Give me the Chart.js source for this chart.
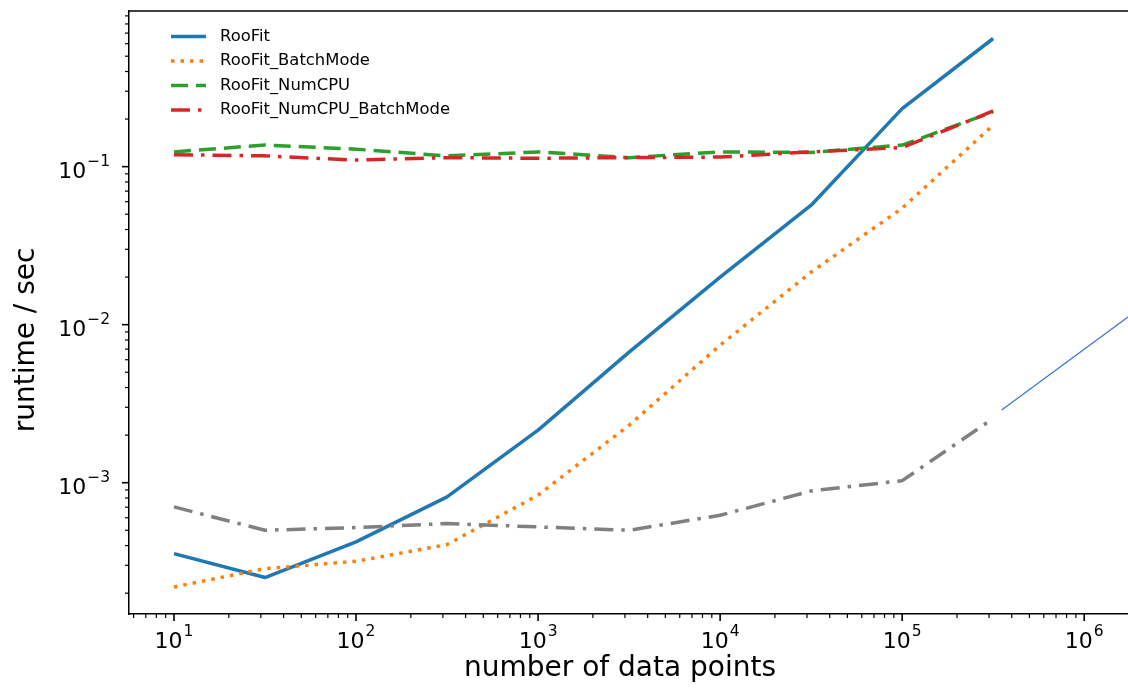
<!DOCTYPE html>
<html>
<head>
<meta charset="utf-8">
<script src="https://cdn.jsdelivr.net/npm/chart.js@4.4.1/dist/chart.umd.min.js"></script>
<style>
    html, body { margin: 0; padding: 0; background: #fff; overflow: hidden; }
    #wrap { width: 1128px; height: 689px; }
</style>
</head>
<body>
<div id="wrap"><canvas id="runtimeChart"></canvas></div>
<script>
// number of data points (x)
const nPoints = [10, 31.62, 100, 316.2, 1000, 3162, 10000, 31623, 100000, 316228];

// runtimes in seconds
const rooFit          = [3.56e-4, 2.51e-4, 4.22e-4, 8.13e-4, 2.15e-3, 6.70e-3, 2.00e-2, 5.70e-2, 0.233, 0.647];
const rooFitBatch     = [2.19e-4, 2.86e-4, 3.18e-4, 4.06e-4, 8.34e-4, 2.31e-3, 7.41e-3, 2.15e-2, 5.46e-2, 0.183];
const rooFitNumCPU    = [0.124, 0.137, 0.129, 0.117, 0.124, 0.114, 0.124, 0.123, 0.137, 0.222];
const rooFitNumCPUBM  = [0.119, 0.117, 0.110, 0.114, 0.113, 0.114, 0.115, 0.124, 0.132, 0.225];
const unlabelledGray  = [7.03e-4, 5.00e-4, 5.20e-4, 5.52e-4, 5.25e-4, 5.00e-4, 6.22e-4, 8.87e-4, 1.03e-3, 2.55e-3];

// the thin blue line on the right
const guideX = [3.52e5, 1.74e6];
const guideY = [2.88e-3, 1.12e-2];

// axis ranges and ticks (labels are base "10" + exponent)
const xRange = [5.66, 1.74e6];
const yRange = [1.476e-4, 0.966];
const xTickValues = [10, 100, 1e3, 1e4, 1e5, 1e6];
const xTickExps = ['1', '2', '3', '4', '5', '6'];
const yTickValues = [1e-3, 1e-2, 1e-1];
const yTickExps = ['\u22123', '\u22122', '\u22121'];
const xTitle = 'number of data points';
const yTitle = 'runtime / sec';

const toPoints = (xs, ys) => xs.map((x, i) => ({ x: x, y: ys[i] }));

function minorTicks(min, max) {
    const out = [];
    for (let e = Math.floor(Math.log10(min)); e <= Math.ceil(Math.log10(max)); e++) {
        for (let m = 2; m <= 9; m++) {
            const v = m * Math.pow(10, e);
            if (v >= min && v <= max) out.push(v);
        }
    }
    return out;
}

const LW = 3.5;
const FONT = '"DejaVu Sans"';

// draws "10" with a raised exponent, like matplotlib mathtext
function drawPower(ctx, exp, x, baseline, align) {
    ctx.font = '22px ' + FONT;
    const wBase = ctx.measureText('10').width;
    ctx.font = '15.5px ' + FONT;
    const wExp = ctx.measureText(exp).width;
    const total = wBase + 1 + wExp;
    const start = align === 'center' ? x - total / 2 : x - total;
    ctx.textBaseline = 'alphabetic';
    ctx.textAlign = 'left';
    ctx.font = '22px ' + FONT;
    ctx.fillText('10', start, baseline);
    ctx.font = '15.5px ' + FONT;
    ctx.fillText(exp, start + wBase + 1, baseline - 12);
}

// top spine, tick marks, tick labels, axis titles and the legend inside the plot
const framePlugin = {
    id: 'frame',
    afterDraw(chart) {
        const ctx = chart.ctx;
        const area = chart.chartArea;
        const xs = chart.scales.x, ys = chart.scales.y;
        ctx.save();
        ctx.strokeStyle = '#000';
        ctx.fillStyle = '#000';
        ctx.setLineDash([]);
        ctx.lineCap = 'butt';

        // top spine
        ctx.lineWidth = 1.5;
        ctx.beginPath();
        ctx.moveTo(area.left - 0.75, area.top);
        ctx.lineTo(area.right, area.top);
        ctx.stroke();

        const drawX = (vals, len, w) => {
            ctx.lineWidth = w;
            vals.forEach(v => {
                const px = xs.getPixelForValue(v);
                if (px < area.left || px > area.right) return;
                ctx.beginPath();
                ctx.moveTo(px, area.bottom);
                ctx.lineTo(px, area.bottom + len);
                ctx.stroke();
            });
        };
        const drawY = (vals, len, w) => {
            ctx.lineWidth = w;
            vals.forEach(v => {
                const py = ys.getPixelForValue(v);
                if (py < area.top || py > area.bottom) return;
                ctx.beginPath();
                ctx.moveTo(area.left, py);
                ctx.lineTo(area.left - len, py);
                ctx.stroke();
            });
        };
        drawX(xTickValues, 7, 1.6);
        drawX(minorTicks(xRange[0], xRange[1]), 4, 1.2);
        drawY(yTickValues, 7, 1.6);
        drawY(minorTicks(yRange[0], yRange[1]), 4, 1.2);

        // tick labels
        xTickValues.forEach((v, i) => {
            drawPower(ctx, xTickExps[i], xs.getPixelForValue(v), area.bottom + 34, 'center');
        });
        yTickValues.forEach((v, i) => {
            drawPower(ctx, yTickExps[i], area.left - 19, ys.getPixelForValue(v) + 11, 'right');
        });

        // axis titles
        ctx.font = '28px ' + FONT;
        ctx.textAlign = 'center';
        ctx.textBaseline = 'alphabetic';
        ctx.fillText(xTitle, area.left + 491, area.bottom + 62);
        ctx.save();
        ctx.translate(34, area.top + 329);
        ctx.rotate(-Math.PI / 2);
        ctx.fillText(yTitle, 0, 0);
        ctx.restore();

        // legend
        const lx = area.left + 42, ly = area.top + 25.5, step = 24.5;
        ctx.font = '16.4px ' + FONT;
        ctx.textBaseline = 'middle';
        ctx.textAlign = 'left';
        chart.data.datasets.filter(ds => ds.label).forEach((ds, i) => {
            const y = ly + i * step;
            ctx.strokeStyle = ds.borderColor;
            ctx.lineWidth = ds.borderWidth;
            ctx.setLineDash(ds.borderDash || []);
            ctx.beginPath();
            ctx.moveTo(lx, y);
            ctx.lineTo(lx + 35, y);
            ctx.stroke();
            ctx.setLineDash([]);
            ctx.fillText(ds.label, lx + 49, y);
        });
        ctx.restore();
    }
};

const ctx = document.getElementById('runtimeChart').getContext('2d');
new Chart(ctx, {
    type: 'line',
    data: {
        datasets: [
            {
                label: 'RooFit',
                data: toPoints(nPoints, rooFit),
                borderColor: '#1f77b4',
                borderWidth: LW,
                order: 6
            },
            {
                label: 'RooFit_BatchMode',
                data: toPoints(nPoints, rooFitBatch),
                borderColor: '#ff7f0e',
                borderWidth: LW,
                borderDash: [3.5, 6],
                order: 5
            },
            {
                label: 'RooFit_NumCPU',
                data: toPoints(nPoints, rooFitNumCPU),
                borderColor: '#2ca02c',
                borderWidth: LW,
                borderDash: [17, 8],
                order: 4
            },
            {
                label: 'RooFit_NumCPU_BatchMode',
                data: toPoints(nPoints, rooFitNumCPUBM),
                borderColor: '#d62728',
                borderWidth: LW,
                borderDash: [19, 8, 3.5, 8],
                order: 3
            },
            {
                label: '',
                data: toPoints(nPoints, unlabelledGray),
                borderColor: '#808080',
                borderWidth: LW,
                borderDash: [19, 8, 3.5, 8],
                order: 2
            },
            {
                label: '',
                data: toPoints(guideX, guideY),
                borderColor: '#3d70d6',
                borderWidth: 1.2,
                order: 1
            }
        ]
    },
    options: {
        responsive: true,
        maintainAspectRatio: false,
        animation: false,
        layout: { padding: { top: 11, right: 0, left: 0, bottom: 0 } },
        elements: {
            point: { radius: 0, hoverRadius: 0 },
            line: { tension: 0, fill: false, borderCapStyle: 'butt', borderJoinStyle: 'round' }
        },
        plugins: {
            legend: { display: false },
            tooltip: { enabled: false }
        },
        scales: {
            x: {
                type: 'logarithmic',
                min: xRange[0],
                max: xRange[1],
                afterBuildTicks: scale => { scale.ticks = xTickValues.map(v => ({ value: v })); },
                afterFit: scale => {
                    scale.height = 75;
                    scale.paddingLeft = 0;
                    scale.paddingRight = 0;
                },
                grid: { display: true, drawOnChartArea: false, drawTicks: false },
                border: { display: true, color: '#000', width: 1.5 },
                ticks: { display: false },
                title: { display: false, text: xTitle }
            },
            y: {
                type: 'logarithmic',
                min: yRange[0],
                max: yRange[1],
                afterBuildTicks: scale => { scale.ticks = yTickValues.map(v => ({ value: v })); },
                afterFit: scale => {
                    scale.width = 129;
                    scale.paddingTop = 0;
                    scale.paddingBottom = 0;
                },
                grid: { display: true, drawOnChartArea: false, drawTicks: false },
                border: { display: true, color: '#000', width: 1.5 },
                ticks: { display: false },
                title: { display: false, text: yTitle }
            }
        }
    },
    plugins: [framePlugin]
});
</script>
</body>
</html>
